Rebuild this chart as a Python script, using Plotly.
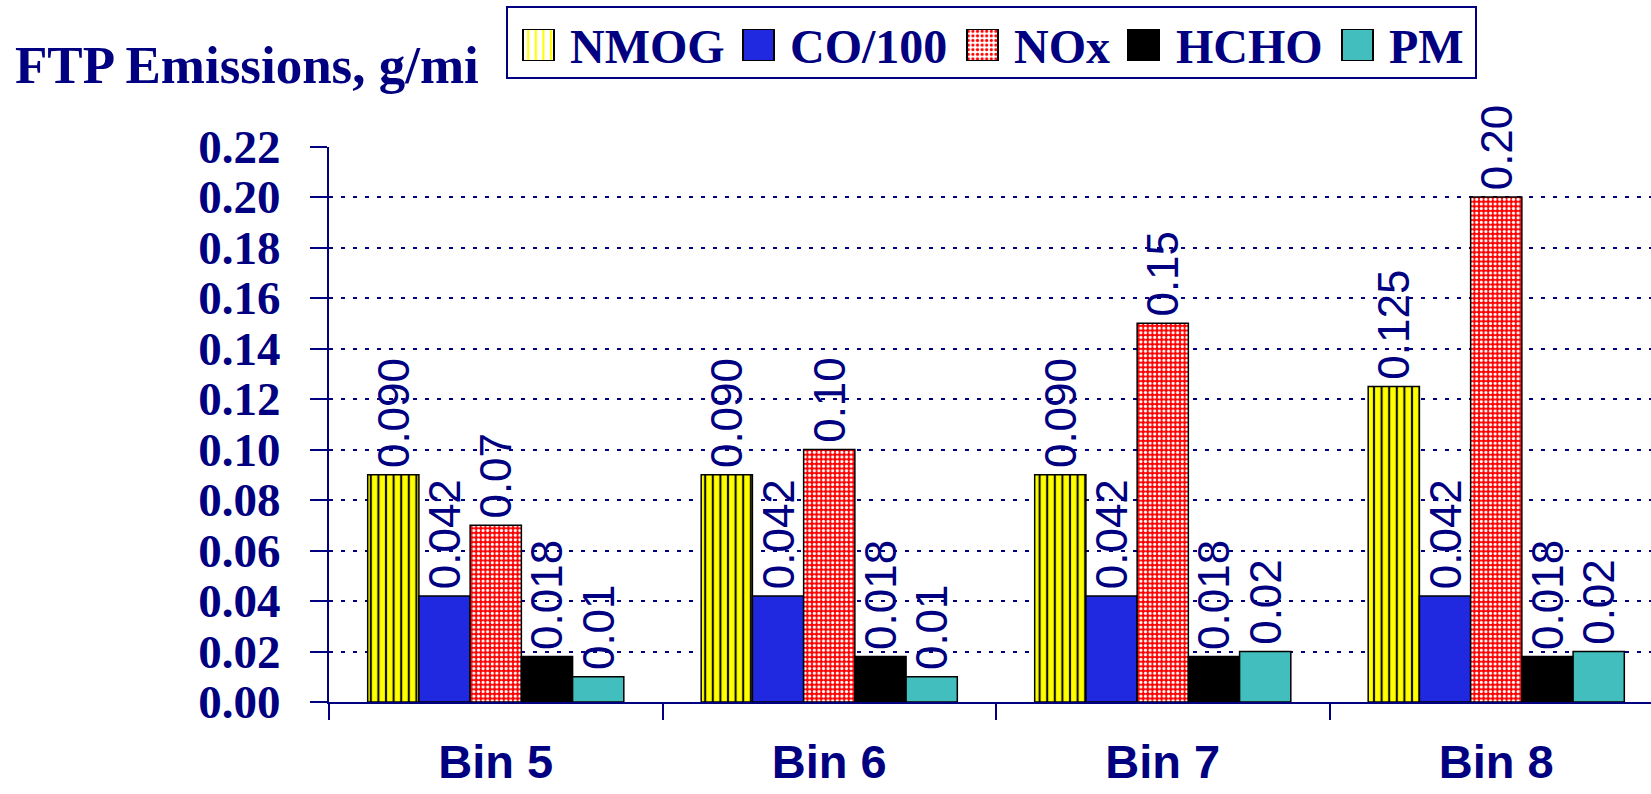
import plotly.graph_objects as go

# ---- data -------------------------------------------------------------
bins = ["Bin 5", "Bin 6", "Bin 7", "Bin 8"]
series_names = ["NMOG", "CO/100", "NOx", "HCHO", "PM"]
nmog = [0.090, 0.090, 0.090, 0.125]
co_100 = [0.042, 0.042, 0.042, 0.042]
nox = [0.07, 0.10, 0.15, 0.20]
hcho = [0.018, 0.018, 0.018, 0.018]
pm = [0.01, 0.01, 0.02, 0.02]
y_ticks = [0.00, 0.02, 0.04, 0.06, 0.08, 0.10, 0.12, 0.14, 0.16, 0.18, 0.20, 0.22]
value_formats = ["%{y:.3f}", "%{y:.3f}", "%{y:.2f}", "%{y:.3f}", "%{y:.2f}"]

# ---- styling ----------------------------------------------------------
W, H = 1651, 794
NAVY = "#000080"
SERIF = "Liberation Serif, Times New Roman, serif"
SANS = "Liberation Sans, Arial, sans-serif"
HAIR = "\u200a"  # small lead-in so value labels sit a little off the bar tops

styles = [
    dict(color="#FFFF00", pattern=dict(shape="|", fgcolor="#111100", bgcolor="#FFFF00",
                                       size=7.6, solidity=0.28, fillmode="replace")),
    dict(color="#2028E0", pattern=dict(shape="")),
    dict(color="#FF0000", pattern=dict(shape=".", fgcolor="#FFFFFF", bgcolor="#FF0000",
                                       size=4.6, solidity=0.38, fillmode="replace")),
    dict(color="#000000", pattern=dict(shape="")),
    dict(color="#42BEBE", pattern=dict(shape="")),
]


def px_x(x):
    return x / W


def px_y(y):
    return 1 - y / H


fig = go.Figure()

for name, values, style, fmt in zip(series_names, [nmog, co_100, nox, hcho, pm],
                                    styles, value_formats):
    fig.add_trace(go.Bar(
        name=name, x=bins, y=values,
        marker=dict(color=style["color"], pattern=style["pattern"],
                    line=dict(color="#000000", width=1.5)),
        texttemplate=HAIR + fmt, textposition="outside", textangle=-90,
        textfont=dict(family=SANS, size=44, color=NAVY),
        constraintext="none", cliponaxis=False, showlegend=False,
    ))

# ---- legend: large patterned keys on a helper axis + text labels ------
key_left = [523, 743, 967, 1128, 1342]
key_size = 31
label_left = [568, 788, 1012, 1174, 1387]
fig.add_trace(go.Bar(
    x=[k + key_size / 2 for k in key_left], y=[1] * len(series_names),
    width=key_size, xaxis="x2", yaxis="y2",
    marker=dict(
        color=[s["color"] for s in styles],
        pattern=dict(
            shape=[s["pattern"]["shape"] for s in styles],
            fgcolor=[s["pattern"].get("fgcolor", "#000000") for s in styles],
            bgcolor=[s["color"] for s in styles],
            size=[s["pattern"].get("size", 8) for s in styles],
            solidity=[s["pattern"].get("solidity", 0.3) for s in styles],
            fillmode="replace",
        ),
        line=dict(color="#000000", width=2),
    ),
    hoverinfo="skip", showlegend=False,
))

annotations = [
    dict(text="FTP Emissions, g/mi", x=px_x(13), y=px_y(65), xref="paper", yref="paper",
         xanchor="left", yanchor="middle", showarrow=False,
         font=dict(family=SERIF, size=53, color=NAVY, weight="bold")),
]
for name, lx in zip(series_names, label_left):
    annotations.append(dict(
        text=name, x=px_x(lx), y=px_y(46), xref="paper", yref="paper",
        xanchor="left", yanchor="middle", showarrow=False,
        font=dict(family=SERIF, size=48, color=NAVY, weight="bold")))

legend_box = dict(type="rect", xref="paper", yref="paper",
                  x0=px_x(507), x1=px_x(1476), y0=px_y(78), y1=px_y(7),
                  line=dict(color=NAVY, width=2), fillcolor="rgba(0,0,0,0)")

fig.update_layout(
    width=W, height=H,
    margin=dict(l=0, r=0, t=0, b=0, autoexpand=False),
    paper_bgcolor="white", plot_bgcolor="white",
    barmode="group", bargap=0.232, bargroupgap=0,
    showlegend=False,
    annotations=annotations,
    shapes=[legend_box],
    xaxis=dict(
        domain=[px_x(329), 1], range=[-0.5, -0.5 + (W - 329) / 333.5],
        type="category", tickson="boundaries", ticks="outside", ticklen=16,
        tickwidth=2, tickcolor=NAVY, showline=True, linecolor=NAVY, linewidth=2,
        showgrid=False, ticklabelstandoff=18, automargin=False,
        tickfont=dict(family=SANS, size=47, color=NAVY, weight="bold"),
    ),
    yaxis=dict(
        domain=[px_y(702), px_y(146.5)], range=[0, 0.22],
        tickvals=y_ticks, tickformat=".2f", ticks="outside", ticklen=17,
        tickwidth=2, tickcolor=NAVY, showline=True, linecolor=NAVY, linewidth=2,
        showgrid=True, gridcolor=NAVY, gridwidth=2, griddash="4px,8px",
        zeroline=False, ticklabelstandoff=20, automargin=False,
        tickfont=dict(family=SERIF, size=47, color=NAVY, weight="bold"),
    ),
    xaxis2=dict(domain=[0, 1], range=[0, W], visible=False, fixedrange=True,
                automargin=False),
    yaxis2=dict(domain=[px_y(61), px_y(29)], range=[0, 1], visible=False, fixedrange=True,
                anchor="x2", automargin=False),
)

fig.write_html("out.html")
